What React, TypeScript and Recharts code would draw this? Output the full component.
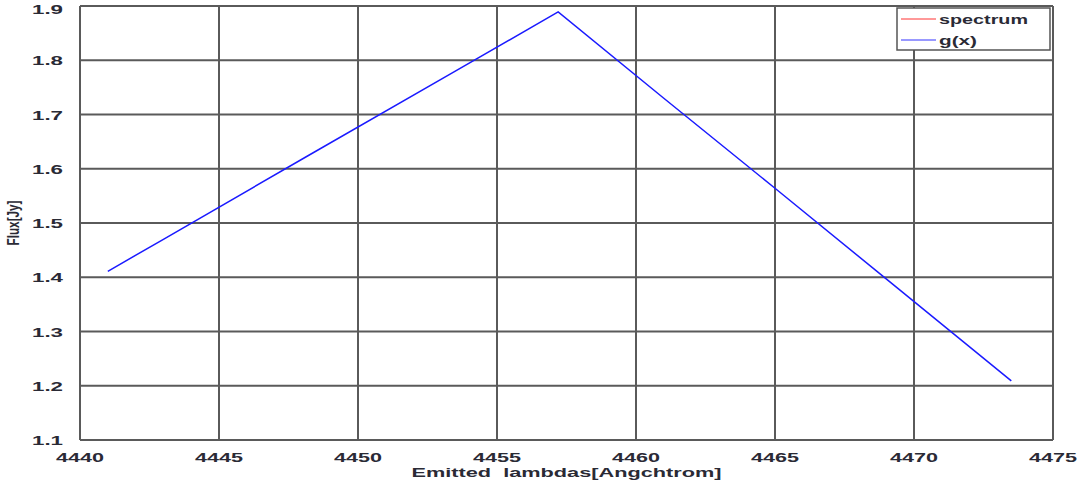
import React from "react";
import { LineChart, Line, XAxis, YAxis, CartesianGrid } from "recharts";

// Emitted wavelength (Angstrom) and fitted flux g(x) along the profile
const lambdas = [4441.0, 4443.0, 4448.2, 4453.5, 4457.2, 4461.0, 4465.0, 4469.0, 4473.5];
const gx = [1.411, 1.470, 1.624, 1.780, 1.889, 1.730, 1.564, 1.397, 1.209];

const xTicks = [4440, 4445, 4450, 4455, 4460, 4465, 4470, 4475];
const yTicks = [1.1, 1.2, 1.3, 1.4, 1.5, 1.6, 1.7, 1.8, 1.9];

const legendItems = [
  { name: "spectrum", color: "#ff3333", width: 89 },
  { name: "g(x)", color: "#3333ff", width: 38 },
];

const data = lambdas.map((x, i) => ({ x, g: gx[i] }));

const font = "'Liberation Sans', Arial, sans-serif";
const ink = "#2a2a35";
const gridColor = "#5a5a5a";

// Tick labels are drawn wide, so each one is stretched to a fixed length.
const XTick = (props: any) => {
  const { x, y, payload } = props;
  return (
    <text
      x={x}
      y={y + 14}
      textAnchor="middle"
      fontFamily={font}
      fontSize={13}
      fontWeight={600}
      fill={ink}
      textLength={48}
      lengthAdjust="spacingAndGlyphs"
    >
      {String(payload.value)}
    </text>
  );
};

const YTick = (props: any) => {
  const { x, y, payload } = props;
  return (
    <text
      x={x - 9}
      y={y + 5}
      textAnchor="end"
      fontFamily={font}
      fontSize={13}
      fontWeight={600}
      fill={ink}
      textLength={31}
      lengthAdjust="spacingAndGlyphs"
    >
      {Number(payload.value).toFixed(1)}
    </text>
  );
};

const XLabel = (props: any) => {
  const vb = props.viewBox || {};
  const cx = (vb.x ?? 80) + (vb.width ?? 973) / 2;
  return (
    <text
      x={cx}
      y={477}
      textAnchor="middle"
      fontFamily={font}
      fontSize={13}
      fontWeight={600}
      fill={ink}
      textLength={310}
      lengthAdjust="spacingAndGlyphs"
    >
      {"Emitted\u00a0\u00a0lambdas[Angchtrom]"}
    </text>
  );
};

const YLabel = (props: any) => {
  const vb = props.viewBox || {};
  const cy = (vb.y ?? 6) + (vb.height ?? 434) / 2;
  return (
    <g transform={`translate(19, ${cy}) rotate(-90)`}>
      <text
        x={0}
        y={0}
        textAnchor="middle"
        fontFamily={font}
        fontSize={12}
        fontWeight={600}
        fill={ink}
        transform="scale(1, 1.45)"
        textLength={45}
        lengthAdjust="spacingAndGlyphs"
      >
        Flux[Jy]
      </text>
    </g>
  );
};

const LegendBox = () => (
  <svg
    width={160}
    height={50}
    style={{ position: "absolute", left: 895, top: 6 }}
  >
    <rect x={2} y={2} width={153} height={42} fill="#fff" stroke="#555" strokeWidth={1.5} />
    {legendItems.map((it, i) => (
      <g key={it.name}>
        <line x1={6} x2={41} y1={13 + i * 21} y2={13 + i * 21} stroke={it.color} strokeWidth={1} />
        <text
          x={44}
          y={18 + i * 21}
          fontFamily={font}
          fontSize={13}
          fontWeight={600}
          fill={ink}
          textLength={it.width}
          lengthAdjust="spacingAndGlyphs"
        >
          {it.name}
        </text>
      </g>
    ))}
  </svg>
);

export default function App() {
  return (
    <div style={{ position: "fixed", left: 0, top: 0, width: 1080, height: 487, background: "#fff" }}>
      <LineChart
        width={1080}
        height={487}
        data={data}
        margin={{ top: 6, right: 27, bottom: 0, left: 0 }}
      >
        <CartesianGrid stroke={gridColor} strokeWidth={2} />
        <XAxis
          dataKey="x"
          type="number"
          domain={[4440, 4475]}
          ticks={xTicks}
          height={47}
          axisLine={{ stroke: gridColor, strokeWidth: 2 }}
          tickLine={false}
          tick={<XTick />}
          label={<XLabel />}
        />
        <YAxis
          type="number"
          domain={[1.1, 1.9]}
          ticks={yTicks}
          width={80}
          axisLine={{ stroke: gridColor, strokeWidth: 2 }}
          tickLine={false}
          tick={<YTick />}
          label={<YLabel />}
        />
        <Line
          dataKey="g"
          stroke="#1a1aff"
          strokeWidth={1.5}
          dot={false}
          isAnimationActive={false}
        />
      </LineChart>
      <LegendBox />
    </div>
  );
}
